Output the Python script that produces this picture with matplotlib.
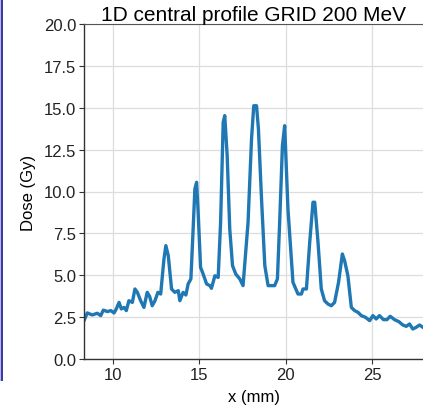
import matplotlib
matplotlib.use("Agg")
import matplotlib.pyplot as plt
from matplotlib.patches import Rectangle

x_mm = [8.32, 8.51, 8.8, 9.09, 9.29, 9.44, 9.67, 9.87, 10.06, 10.19, 10.35, 10.48, 10.64, 10.77,
        10.92, 11.12, 11.27, 11.41, 11.6, 11.79, 11.98, 12.12, 12.27, 12.43, 12.6, 12.76, 12.95,
        13.06, 13.2, 13.39, 13.58, 13.78, 13.87, 14.06, 14.22, 14.35, 14.51, 14.64, 14.74, 14.84,
        14.93, 15.07, 15.22, 15.42, 15.61, 15.7, 15.9, 16.09, 16.23, 16.38, 16.47, 16.61, 16.76,
        16.92, 17.11, 17.34, 17.53, 17.82, 18.02, 18.15, 18.31, 18.42, 18.6, 18.79, 18.98, 19.17,
        19.36, 19.52, 19.65, 19.81, 19.94, 20.13, 20.42, 20.71, 20.91, 21.0, 21.2, 21.39, 21.58,
        21.68, 21.87, 22.06, 22.25, 22.45, 22.64, 22.83, 23.06, 23.28, 23.41, 23.6, 23.8, 23.99,
        24.18, 24.38, 24.62, 24.86, 25.05, 25.24, 25.43, 25.66, 25.86, 26.05, 26.3, 26.55, 26.78,
        26.98, 27.17, 27.36, 27.55, 27.75, 27.95]
dose_gy = [2.29, 2.75, 2.63, 2.73, 2.59, 2.92, 2.83, 2.89, 2.75, 2.99, 3.38, 2.99, 3.08, 2.89,
           3.48, 3.38, 4.18, 3.98, 3.48, 3.08, 3.98, 3.74, 3.18, 3.48, 3.98, 3.88, 5.97,
           6.77, 6.17, 4.18, 3.98, 4.08, 3.48, 3.98, 3.82, 4.48, 4.78, 7.76, 10.15, 10.55,
           8.76, 5.47, 5.07, 4.48, 4.38, 4.22, 4.97, 4.87, 8.16, 14.13, 14.53, 12.14, 7.76,
           5.57, 5.07, 4.78, 4.38, 8.16, 13.13, 15.12, 15.12, 13.73, 9.55, 5.57, 4.38, 4.38,
           4.38, 4.78, 8.16, 12.74, 13.93, 8.96, 4.58, 3.88, 3.88, 4.18, 4.18, 6.97, 9.36,
           9.36, 6.97, 4.18, 3.48, 3.28, 3.18, 3.38, 4.58, 6.27, 5.87, 4.97, 3.08, 2.89,
           2.79, 2.59, 2.49, 2.29, 2.59, 2.39, 2.59, 2.35, 2.35, 2.55, 2.35, 2.23, 2.03,
           1.95, 2.09, 1.79, 1.89, 2.03, 1.89]

x_ticks = [10, 15, 20, 25]
y_ticks = [0.0, 2.5, 5.0, 7.5, 10.0, 12.5, 15.0, 17.5, 20.0]

plt.rcParams['font.family'] = ['Liberation Sans', 'DejaVu Sans']

fig = plt.figure(figsize=(4.23, 4.06), dpi=100)
fig.patch.set_facecolor('white')
# left frame strip
fig.patches.append(Rectangle((0, 24 / 406), 3 / 423, 382 / 406, transform=fig.transFigure,
                             facecolor='#3a3aa8', edgecolor='none'))
fig.patches.append(Rectangle((0, 24 / 406), 1.2 / 423, 382 / 406, transform=fig.transFigure,
                             facecolor='#b8b8e0', edgecolor='none'))

ax = fig.add_axes([84 / 423, 1 - 360 / 406, 1 - 84 / 423, (360 - 25) / 406])
ax.plot(x_mm, dose_gy, color='#1f77b4', linewidth=2.4)
ax.set_xlim(8.32, 27.95)
ax.set_ylim(0, 20)
ax.set_xticks(x_ticks)
ax.set_yticks(y_ticks)
ax.set_yticklabels([f"{v:.1f}" for v in y_ticks])
ax.grid(True, color='#dddddd', linewidth=0.9)
ax.set_axisbelow(True)
for s in ['left', 'bottom']:
    ax.spines[s].set_color('#333333')
    ax.spines[s].set_linewidth(1.0)
ax.spines['top'].set_color('#555555')
ax.spines['top'].set_linewidth(0.8)
ax.spines['right'].set_visible(False)
ax.tick_params(axis='both', labelsize=12, direction='out', length=3.5, width=0.8,
               color='#333333', labelcolor='#222222', pad=2)
ax.set_xlabel('x (mm)', fontsize=12, labelpad=5)
ax.set_ylabel('Dose (Gy)', fontsize=12, labelpad=6)
ax.set_title('1D central profile GRID 200 MeV', fontsize=15, pad=3)

fig.savefig('out.png', dpi=100)
